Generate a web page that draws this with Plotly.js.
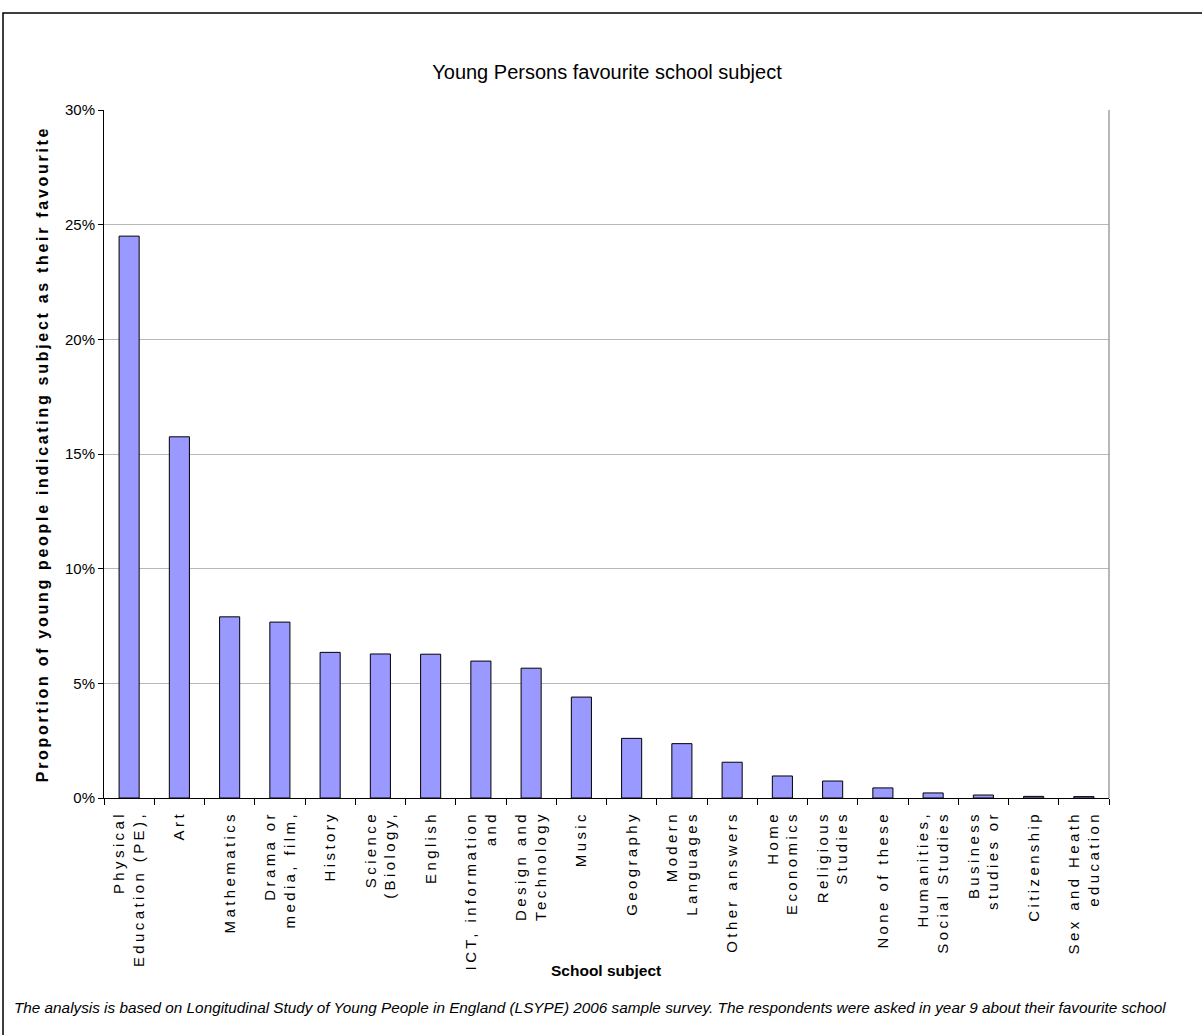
<!DOCTYPE html>
<html>
<head>
<meta charset="utf-8">
<script src="https://cdn.plot.ly/plotly-3.0.1.min.js"></script>
<style>
  html, body { margin: 0; padding: 0; background: #fff; }
  #chart { width: 1202px; height: 1035px; }
  .xtick text { letter-spacing: 3.4px; }
  .ytitle { letter-spacing: 2.7px; }
</style>
</head>
<body>
<div id="chart"></div>
<script>
// ---- data ----
const subjects = [
  "Physical<br>Education (PE),",
  "Art",
  "Mathematics",
  "Drama or<br>media, film,",
  "History",
  "Science<br>(Biology,",
  "English",
  "ICT, information<br>and",
  "Design and<br>Technology",
  "Music",
  "Geography",
  "Modern<br>Languages",
  "Other answers",
  "Home<br>Economics",
  "Religious<br>Studies",
  "None of these",
  "Humanities,<br>Social Studies",
  "Business<br>studies or",
  "Citizenship",
  "Sex and Heath<br>education"
];
const sharePercent = [24.5, 15.75, 7.9, 7.67, 6.35, 6.28, 6.27, 5.97, 5.66, 4.4,
                      2.6, 2.37, 1.56, 0.96, 0.74, 0.44, 0.22, 0.13, 0.07, 0.06];
const yTickVals = [0, 5, 10, 15, 20, 25, 30];
const yTickLabels = ["0%", "5%", "10%", "15%", "20%", "25%", "30%"];
const chartTitle = "Young Persons favourite school subject";
const yTitle = "Proportion of young people indicating subject as their favourite";
const xTitle = "School subject";
const footnote = "The analysis is based on Longitudinal Study of Young People in England (LSYPE) 2006 sample survey. The respondents were asked in year 9 about their favourite school";

const sans = '"Liberation Sans", Arial, sans-serif';

const trace = {
  type: 'bar',
  x: subjects,
  y: sharePercent,
  marker: { color: '#9999ff', line: { color: '#000000', width: 1 } },
  hoverinfo: 'x+y'
};

const L = 104, R = 1109, T = 110, B = 798, W = 1202, H = 1035;
const px = v => (v - L) / (R - L);
const py = v => (B - v) / (B - T);

const layout = {
  width: W, height: H,
  margin: { l: L, r: W - R, t: T, b: H - B, pad: 0 },
  paper_bgcolor: '#ffffff',
  plot_bgcolor: '#ffffff',
  showlegend: false,
  bargap: 0.6,
  title: {
    text: chartTitle,
    font: { family: sans, size: 20, color: '#000' },
    x: px(607), xref: 'paper', xanchor: 'center',
    y: 1 - 72 / H, yref: 'container', yanchor: 'middle'
  },
  xaxis: {
    type: 'category',
    tickangle: -90,
    tickfont: { family: sans, size: 15, color: '#000' },
    ticklabelstandoff: 6,
    showline: true, linecolor: '#000', linewidth: 1,
    ticks: 'outside', ticklen: 6, tickcolor: '#000', tickwidth: 1,
    tickson: 'boundaries',
    showgrid: false, zeroline: false,
    automargin: false,
    fixedrange: true
  },
  yaxis: {
    range: [0, 30],
    tickmode: 'array',
    tickvals: yTickVals,
    ticktext: yTickLabels,
    tickfont: { family: sans, size: 15, color: '#000' },
    showline: true, linecolor: '#000', linewidth: 1,
    ticks: 'outside', ticklen: 5, tickcolor: '#000', tickwidth: 1,
    showgrid: true, gridcolor: '#b8b8b8', gridwidth: 1,
    zeroline: false,
    automargin: false,
    title: {
      text: yTitle,
      font: { family: sans, size: 16, color: '#000', weight: 'bold' },
      standoff: 12
    },
    fixedrange: true
  },
  shapes: [
    { type: 'line', xref: 'paper', yref: 'paper', x0: 1, x1: 1, y0: 0, y1: 1,
      line: { color: '#a0a0a0', width: 1.5 } },
    { type: 'rect', xref: 'paper', yref: 'paper',
      x0: px(3), x1: px(1210), y0: py(1045), y1: py(13),
      line: { color: '#000', width: 1.5 }, fillcolor: 'rgba(0,0,0,0)' }
  ],
  annotations: [
    { text: '<b>' + xTitle + '</b>', xref: 'paper', yref: 'paper',
      x: px(606), y: py(970), xanchor: 'center', yanchor: 'middle',
      showarrow: false, font: { family: sans, size: 15.5, color: '#000' } },
    { text: '<i>' + footnote + '</i>', xref: 'paper', yref: 'paper',
      x: px(12), y: py(1008), xanchor: 'left', yanchor: 'middle',
      showarrow: false, font: { family: sans, size: 15.3, color: '#000' } }
  ]
};

Plotly.newPlot('chart', [trace], layout, { displayModeBar: false });
</script>
</body>
</html>
